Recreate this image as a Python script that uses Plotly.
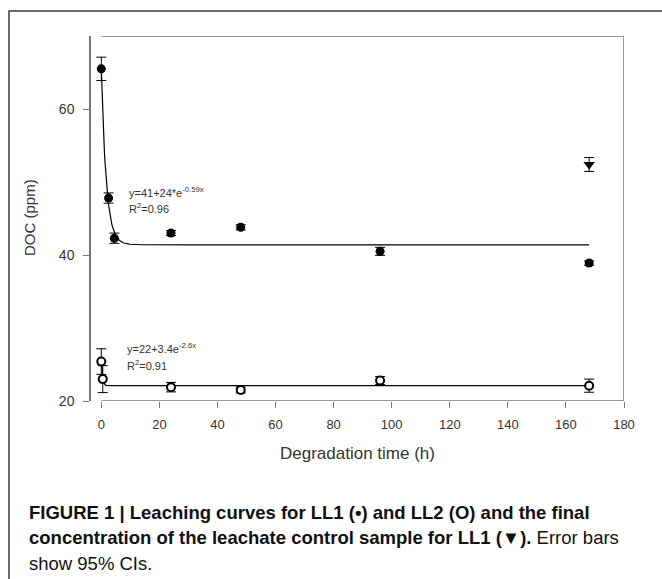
import numpy as np
import plotly.graph_objects as go

# ---- data ----
ll1_x = [0, 2.5, 4.5, 24, 48, 96, 168]
ll1_y = [65.5, 47.8, 42.3, 43.0, 43.8, 40.5, 38.9]
ll1_err = [1.6, 0.7, 0.7, 0.35, 0.35, 0.55, 0.3]

ll2_x = [0, 0.5, 24, 48, 96, 168]
ll2_y = [25.4, 23.0, 21.9, 21.5, 22.8, 22.1]
ll2_err = [1.75, 1.85, 0.65, 0.4, 0.55, 0.9]

ctrl_x = [168]
ctrl_y = [52.4]
ctrl_err = [0.95]

# fitted models y = a + b*exp(-k*x) (parameters as printed on the chart)
fit1 = dict(a=41.4, b=24.0, k=0.59)
fit2 = dict(a=22.1, b=3.4, k=2.6)
fit_x_end = 168

x_ticks = [0, 20, 40, 60, 80, 100, 120, 140, 160, 180]
y_ticks = [20, 40, 60]
x_range = [-3.55, 180]
y_range = [20, 70]

# ---- figure ----
W, H = 662, 579
L, R, T, B = 91, 38, 36, 178
pw, ph = W - L - R, H - T - B


def px(xp):
    return (xp - L) / pw


def py(yp):
    return (H - B - yp) / ph


fx = np.linspace(0, fit_x_end, 800)
fig = go.Figure()
fig.add_trace(go.Scatter(x=fx, y=fit1["a"] + fit1["b"] * np.exp(-fit1["k"] * fx),
                         mode="lines", line=dict(color="black", width=1.2),
                         hoverinfo="skip"))
fig.add_trace(go.Scatter(x=fx, y=fit2["a"] + fit2["b"] * np.exp(-fit2["k"] * fx),
                         mode="lines", line=dict(color="black", width=1.2),
                         hoverinfo="skip"))

fig.add_trace(go.Scatter(x=ll1_x, y=ll1_y, mode="markers",
                         marker=dict(symbol="circle", size=9, color="black"),
                         error_y=dict(type="data", array=ll1_err, color="black",
                                      thickness=1, width=5)))
fig.add_trace(go.Scatter(x=ll2_x, y=ll2_y, mode="markers",
                         marker=dict(symbol="circle", size=8, color="white",
                                     line=dict(color="black", width=2)),
                         error_y=dict(type="data", array=ll2_err, color="black",
                                      thickness=1, width=5)))
fig.add_trace(go.Scatter(x=ctrl_x, y=ctrl_y, mode="markers",
                         marker=dict(symbol="triangle-down", size=10, color="black"),
                         error_y=dict(type="data", array=ctrl_err, color="black",
                                      thickness=1, width=5)))

axis_col = "#777777"
shapes = [
    dict(type="line", xref="x", yref="y", x0=0, x1=180, y0=20, y1=20,
         line=dict(color=axis_col, width=1.5)),
    dict(type="line", xref="x", yref="y", x0=0, x1=180, y0=70, y1=70,
         line=dict(color=axis_col, width=1.5)),
    dict(type="line", xref="x", yref="y", x0=180, x1=180, y0=20, y1=70,
         line=dict(color=axis_col, width=1.5)),
    dict(type="rect", xref="paper", yref="paper",
         x0=px(9), x1=px(680), y0=py(600), y1=py(11),
         line=dict(color="#3a3a3a", width=1.5)),
]

base = "Liberation Sans, Arial, sans-serif"
txt_font = dict(family=base, size=11, color="#333333")
ann = [
    dict(x=px(127), y=py(192), xref="paper", yref="paper", xanchor="left", yanchor="middle",
         text="y=41+24*e<sup>-0.59x</sup>", showarrow=False, font=txt_font),
    dict(x=px(127), y=py(208), xref="paper", yref="paper", xanchor="left", yanchor="middle",
         text="R<sup>2</sup>=0.96", showarrow=False, font=txt_font),
    dict(x=px(125), y=py(348), xref="paper", yref="paper", xanchor="left", yanchor="middle",
         text="y=22+3.4e<sup>-2.6x</sup>", showarrow=False, font=txt_font),
    dict(x=px(125), y=py(365), xref="paper", yref="paper", xanchor="left", yanchor="middle",
         text="R<sup>2</sup>=0.91", showarrow=False, font=txt_font),
    dict(x=px(357), y=py(453), xref="paper", yref="paper", xanchor="center", yanchor="middle",
         text="Degradation time (h)", showarrow=False,
         font=dict(family=base, size=17, color="#333333")),
    dict(x=px(30), y=py(218), xref="paper", yref="paper", xanchor="center", yanchor="middle",
         text="DOC (ppm)", textangle=-90, showarrow=False,
         font=dict(family=base, size=15, color="#333333")),
]

cap_font = dict(family=base, size=18.5, color="#111111")
cap_lines = [
    "<b>FIGURE 1 | Leaching curves for LL1 (•) and LL2 (O) and the final</b>",
    "<b>concentration of the leachate control sample for LL1 (▼).</b> Error bars",
    "show 95% CIs.",
]
cap_y = [512, 537, 563]
for t, yy in zip(cap_lines, cap_y):
    ann.append(dict(x=px(27), y=py(yy), xref="paper", yref="paper", xanchor="left",
                    yanchor="middle", text=t, showarrow=False, font=cap_font))

fig.update_layout(
    width=W, height=H, autosize=False,
    margin=dict(l=L, r=R, t=T, b=B, pad=0),
    paper_bgcolor="white", plot_bgcolor="white",
    showlegend=False,
    shapes=shapes, annotations=ann,
    font=dict(family=base, size=12, color="#333333"),
    xaxis=dict(range=x_range, tickvals=x_ticks, ticks="outside", ticklen=6, tickwidth=1.2,
               tickcolor=axis_col, showline=False, showgrid=False, zeroline=False,
               tickfont=dict(size=13, color="#333333"), ticklabelstandoff=5),
    yaxis=dict(range=y_range, tickvals=y_ticks, ticks="outside", ticklen=6, tickwidth=1.2,
               tickcolor=axis_col, showline=True, linecolor=axis_col, linewidth=1.5,
               showgrid=False, zeroline=False,
               tickfont=dict(size=14, color="#333333"), ticklabelstandoff=6),
)

fig.write_html("out.html")
